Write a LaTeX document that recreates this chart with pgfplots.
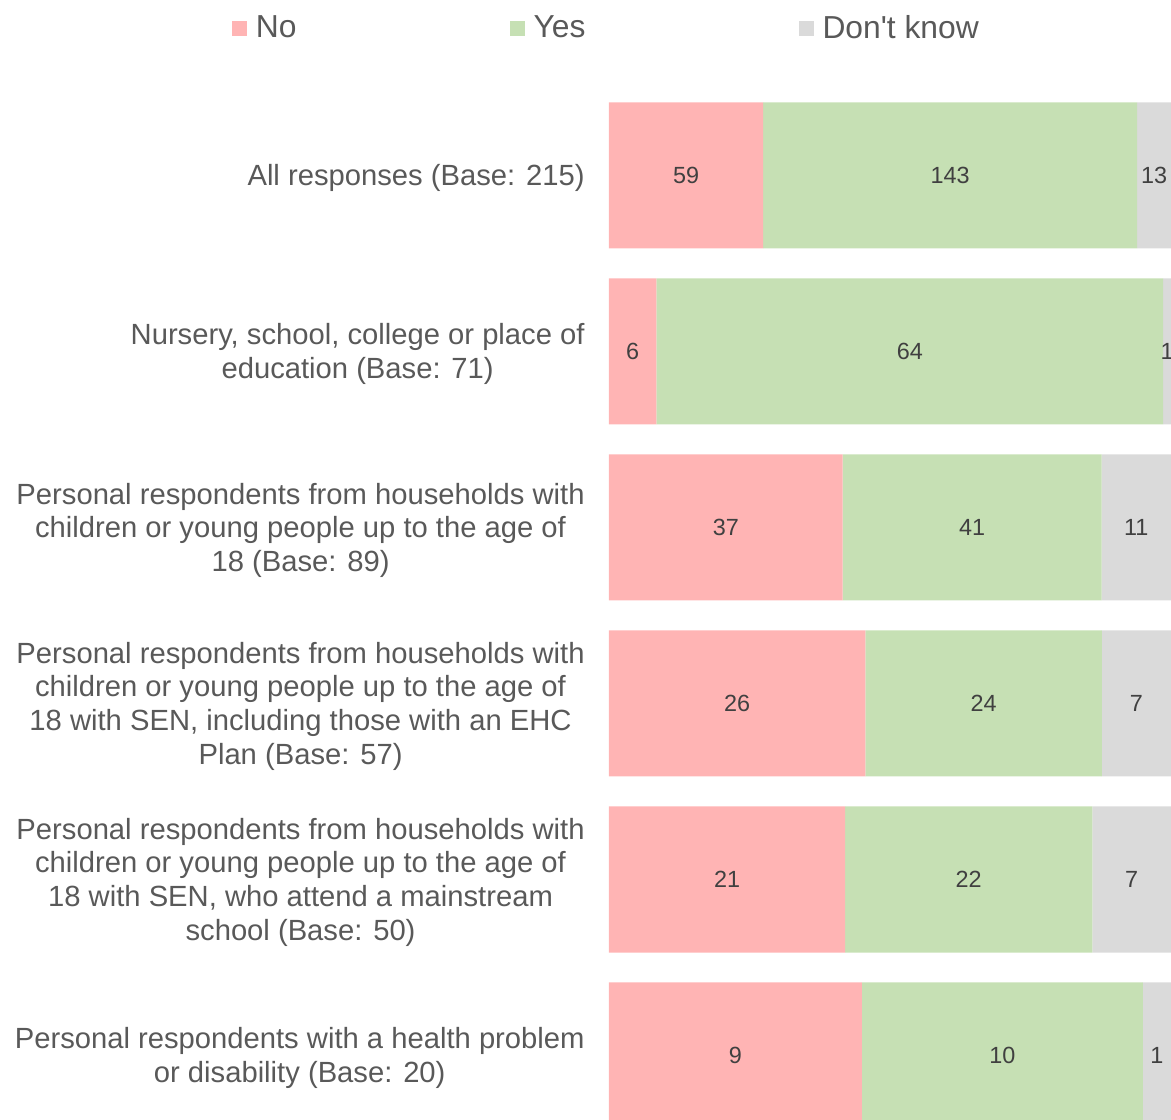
\documentclass[border=0pt]{standalone}
\usepackage{pgfplots}
\pgfplotsset{compat=1.18}
\usepackage{pgfplotstable}
\usepackage{fontspec}
\setmainfont{Liberation Sans}
\definecolor{nocol}{HTML}{FFB4B4}
\definecolor{yescol}{HTML}{C6E0B4}
\definecolor{dkcol}{HTML}{DADADA}
\definecolor{txt}{HTML}{595959}
\definecolor{lbl}{HTML}{404040}
\pgfplotstableread{
y No Yes DK Base
0 59 143 13 215
1 6 64 1 71
2 37 41 11 89
3 26 24 7 57
4 21 22 7 50
5 9 10 1 20
}\data
\pgfplotsset{common/.style={
  scale only axis, width=281pt, height=528pt,
  xmin=0, xmax=100, ymin=-0.5, ymax=5.5, y dir=reverse,
  clip=false,
  axis line style={draw=none}, major tick length=0pt,
  xtick=\empty}}
\begin{document}
\begin{tikzpicture}
\begin{axis}[common,
  xbar stacked, bar width=73pt,
  ytick={0,...,5},
  yticklabels={
    {All responses (Base: 215)},
    {Nursery, school, college or place of\\education (Base: 71)},
    {Personal respondents from households with\\children or young people up to the age of\\18 (Base: 89)},
    {Personal respondents from households with\\children or young people up to the age of\\18 with SEN, including those with an EHC\\Plan (Base: 57)},
    {Personal respondents from households with\\children or young people up to the age of\\18 with SEN, who attend a mainstream\\school (Base: 50)},
    {Personal respondents with a health problem\\or disability (Base: 20)}},
  yticklabel style={font=\fontsize{14.6}{16.8}\selectfont, text=txt, align=center, inner sep=0pt, anchor=east, xshift=-12pt, yshift=-1.3pt},
  legend columns=3,
  legend image code/.code={\fill[#1] (0pt,-3.75pt) rectangle (7.5pt,3.75pt);},
  legend style={at={(axis description cs:-0.6708,1.0563)}, anchor=west, draw=none, fill=none,
    inner sep=0pt, outer sep=0pt, font=\fontsize{15.9}{17}\selectfont, text=txt,
    nodes={inner sep=0pt},
    /tikz/every even column/.append style={column sep=106.5pt},
    /tikz/every odd column/.append style={column sep=4.5pt}},
]
\addplot[fill=nocol, draw=none] table[y=y, x expr=\thisrow{No}/\thisrow{Base}*100] \data;
\addplot[fill=yescol, draw=none] table[y=y, x expr=\thisrow{Yes}/\thisrow{Base}*100] \data;
\addplot[fill=dkcol, draw=none] table[y=y, x expr=\thisrow{DK}/\thisrow{Base}*100] \data;
\legend{No, Yes, Don\textquotesingle t know}
\coordinate (bl) at (rel axis cs:0,0);
\coordinate (tr) at (rel axis cs:1,1);
\end{axis}
\begin{axis}[common, ytick=\empty, point meta=explicit,
  /pgf/number format/assume math mode=true,
  nodes near coords, nodes near coords align={center},
  nodes near coords style={font=\fontsize{11.7}{13}\selectfont, text=lbl, anchor=center}]
\addplot[only marks, mark=none] table[y=y, x expr=0.5*\thisrow{No}/\thisrow{Base}*100, meta=No] \data;
\addplot[only marks, mark=none] table[y=y, x expr=(\thisrow{No}+0.5*\thisrow{Yes})/\thisrow{Base}*100, meta=Yes] \data;
\addplot[only marks, mark=none] table[y=y, x expr=(\thisrow{No}+\thisrow{Yes}+0.5*\thisrow{DK})/\thisrow{Base}*100, meta=DK] \data;
\end{axis}
\pgfresetboundingbox
\path ([xshift=-304.5pt, yshift=12pt]bl) rectangle ([yshift=43.75pt]tr);
\end{tikzpicture}
\end{document}
